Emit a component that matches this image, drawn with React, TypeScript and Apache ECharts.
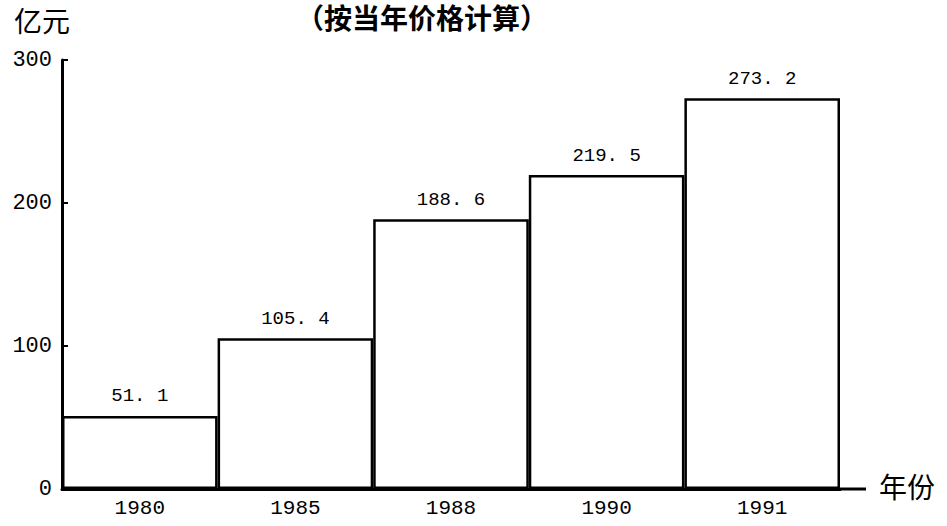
import React, { useEffect, useRef } from "react";
import * as echarts from "echarts";

const categories = ["1980", "1985", "1988", "1990", "1991"];
const values = [51.1, 105.4, 188.6, 219.5, 273.2];
const yTicks = [0, 100, 200, 300];
const titleText = "（按当年价格计算）";
const yUnit = "亿元";
const xUnit = "年份";

export default function App() {
  const ref = useRef<HTMLDivElement>(null);
  useEffect(() => {
    if (!ref.current) return;
    const chart = echarts.init(ref.current, undefined, { renderer: "svg" });
    const numFont = "'Liberation Mono', 'DejaVu Sans Mono', monospace";
    const cjkFont = "'Noto Sans CJK SC', sans-serif";
    chart.setOption({
      animation: false,
      backgroundColor: "#ffffff",
      grid: { left: 62, right: 107, top: 60, bottom: 37 },
      xAxis: {
        type: "category",
        data: categories,
        boundaryGap: true,
        axisLine: { show: true, lineStyle: { color: "#000", width: 3 } },
        axisTick: { show: false },
        axisLabel: { color: "#000", fontSize: 21, fontFamily: numFont, margin: 9 },
      },
      yAxis: {
        type: "value",
        min: yTicks[0],
        max: yTicks[yTicks.length - 1],
        interval: 100,
        splitLine: { show: false },
        axisLine: { show: true, lineStyle: { color: "#000", width: 3 } },
        axisTick: { show: true, inside: true, length: 6, lineStyle: { color: "#000", width: 2 } },
        axisLabel: { color: "#000", fontSize: 22, fontFamily: numFont, margin: 10 },
      },
      series: [
        {
          type: "bar",
          data: values,
          barCategoryGap: "0%",
          itemStyle: { color: "#fff", borderColor: "#000", borderWidth: 2.5 },
          label: {
            show: true,
            position: "top",
            distance: 10,
            color: "#000",
            fontSize: 19,
            fontFamily: numFont,
            formatter: (p: any) => Number(p.value).toFixed(1).replace(".", ". "),
          },
        },
      ],
      graphic: [
        {
          type: "line",
          shape: { x1: 840, y1: 489, x2: 866, y2: 489 },
          style: { stroke: "#000", lineWidth: 3 },
        },
        {
          type: "text",
          left: 14,
          top: 6,
          style: { text: yUnit, fontSize: 28, fontFamily: cjkFont, fill: "#000" },
        },
        {
          type: "text",
          left: 296,
          top: 3,
          style: { text: titleText, fontSize: 28, fontWeight: "bold", fontFamily: cjkFont, fill: "#000" },
        },
        {
          type: "text",
          left: 879,
          top: 472,
          style: { text: xUnit, fontSize: 28, fontFamily: cjkFont, fill: "#000" },
        },
      ],
    });
    return () => chart.dispose();
  }, []);
  return (
    <div
      ref={ref}
      style={{ position: "absolute", left: 0, top: 0, width: 947, height: 526 }}
    />
  );
}
